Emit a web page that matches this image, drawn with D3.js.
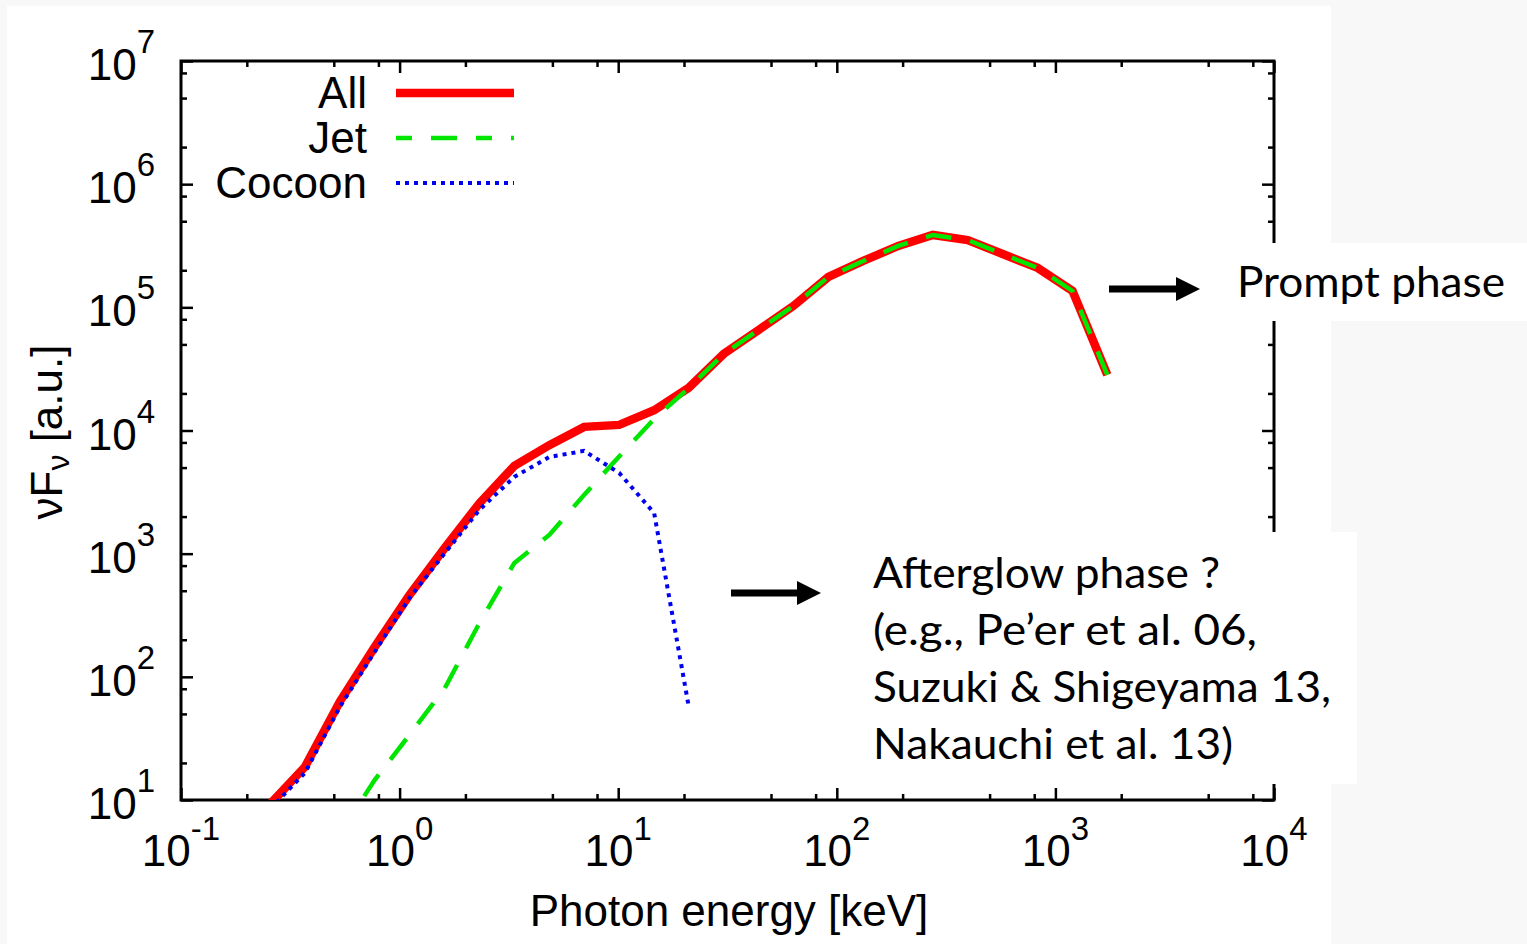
<!DOCTYPE html>
<html>
<head>
<meta charset="utf-8">
<script src="https://cdn.jsdelivr.net/npm/d3@7"></script>
<style>
  body { margin: 0; background: #f8f8f8; }
  svg { display: block; }
</style>
</head>
<body>
<svg></svg>
<script>
const width = 1527;
const height = 944;

// photon energy grid [keV]
const energy = [0.256, 0.369, 0.533, 0.770, 1.11, 1.61, 2.32, 3.35, 4.84, 6.98,
                10.1, 14.6, 21.0, 30.4, 43.9, 63.3, 91.5, 132, 191, 275,
                397, 574, 829, 1197, 1728];
const allFlux = [9.3, 18.6, 63, 175, 463, 1115, 2570, 5160, 7600, 10700,
                 11100, 14600, 22200, 41900, 65600, 102600, 176600, 238000, 315000, 387000,
                 352000, 271000, 209000, 136000, 28300];
const jetFlux = [null, null, 5.3, 14.6, 33.8, 81, 274, 841, 1420, 3000,
                 6150, 12400, 22100, 41900, 65600, 102600, 176600, 238000, 315000, 387000,
                 352000, 271000, 209000, 136000, 28300];
const cocoonFlux = [8.5, 16.6, 57, 160, 437, 1010, 2270, 4200, 6100, 6830,
                    4530, 2140, 58, null, null, null, null, null, null, null,
                    null, null, null, null, null];

const seriesNames = ["All", "Jet", "Cocoon"];
const xTickExp = [-1, 0, 1, 2, 3, 4];
const yTickExp = [1, 2, 3, 4, 5, 6, 7];
const minorMult = [2, 5, 8];

const afterglowLines = ["Afterglow phase ?", "(e.g., Pe\u2019er et al. 06,",
                        "Suzuki & Shigeyama 13,", "Nakauchi et al. 13)"];

const plotL = 181, plotR = 1274, plotT = 61, plotB = 800;
const gnuFont = "'Liberation Sans', Arial, sans-serif";
const noteFont = "Lato, 'Open Sans', sans-serif";

const svg = d3.select("svg")
  .attr("width", width)
  .attr("height", height);

svg.append("rect").attr("width", width).attr("height", height).attr("fill", "#f8f8f8");
svg.append("rect").attr("x", 7).attr("y", 6).attr("width", 1324).attr("height", 938).attr("fill", "#fff");

const x = d3.scaleLog().domain([0.1, 1e4]).range([plotL, plotR]);
const y = d3.scaleLog().domain([10, 1e7]).range([plotB, plotT]);

const xMajor = xTickExp.map(e => Math.pow(10, e));
const yMajor = yTickExp.map(e => Math.pow(10, e));
const xMinor = xMajor.slice(0, -1).flatMap(v => minorMult.map(m => m * v));
const yMinor = yMajor.slice(0, -1).flatMap(v => minorMult.map(m => m * v));

function ticks(axisFn, scale, vals, size, tr) {
  svg.append("g")
    .attr("transform", tr)
    .call(axisFn(scale).tickValues(vals).tickSize(size).tickFormat(""))
    .call(g => g.select(".domain").remove())
    .call(g => g.selectAll("line").attr("stroke", "#000").attr("stroke-width", 2.5));
}

[[xMajor, -12], [xMinor, -6]].forEach(([v, s]) => {
  ticks(d3.axisBottom, x, v, s, `translate(0,${plotB})`);
  ticks(d3.axisTop, x, v, s, `translate(0,${plotT})`);
});
[[yMajor, -12], [yMinor, -6]].forEach(([v, s]) => {
  ticks(d3.axisLeft, y, v, s, `translate(${plotL},0)`);
  ticks(d3.axisRight, y, v, s, `translate(${plotR},0)`);
});

svg.append("rect")
  .attr("x", plotL).attr("y", plotT)
  .attr("width", plotR - plotL).attr("height", plotB - plotT)
  .attr("fill", "none").attr("stroke", "#000").attr("stroke-width", 3);

// tick labels
xTickExp.forEach(e => {
  const t = svg.append("text")
    .attr("x", x(Math.pow(10, e))).attr("y", 866)
    .attr("text-anchor", "middle")
    .style("font-family", gnuFont).style("font-size", "44px");
  t.append("tspan").text("10");
  t.append("tspan").attr("dy", -26).style("font-size", "33px").text(e);
});
yTickExp.forEach(e => {
  const t = svg.append("text")
    .attr("x", 155).attr("y", y(Math.pow(10, e)) + 19)
    .attr("text-anchor", "end")
    .style("font-family", gnuFont).style("font-size", "44px");
  t.append("tspan").text("10");
  t.append("tspan").attr("dy", -27).style("font-size", "33px").text(e);
});

svg.append("text")
  .attr("x", 729).attr("y", 926)
  .attr("text-anchor", "middle")
  .style("font-family", gnuFont).style("font-size", "44px")
  .text("Photon energy [keV]");

const yTitle = svg.append("text")
  .attr("transform", "translate(62,432) rotate(-90)")
  .attr("text-anchor", "middle")
  .style("font-family", gnuFont).style("font-size", "44px");
yTitle.append("tspan").text("\u03bdF");
yTitle.append("tspan").attr("dy", 7).style("font-size", "32px").text("\u03bd");
yTitle.append("tspan").attr("dy", -7).text(" [a.u.]");

// curves
svg.append("clipPath").attr("id", "plot-clip")
  .append("rect").attr("x", plotL).attr("y", plotT)
  .attr("width", plotR - plotL).attr("height", plotB - plotT);

const styles = {
  All:    { color: "#ff0000", width: 8.5, dash: null },
  Jet:    { color: "#00e600", width: 4.5, dash: "26,19" },
  Cocoon: { color: "#0000f0", width: 4,   dash: "4,5" }
};
const fluxes = { All: allFlux, Jet: jetFlux, Cocoon: cocoonFlux };

const line = d3.line()
  .defined(d => d[1] != null)
  .x(d => x(d[0]))
  .y(d => y(d[1]));

const curves = svg.append("g").attr("clip-path", "url(#plot-clip)");
seriesNames.forEach(name => {
  const s = styles[name];
  curves.append("path")
    .datum(energy.map((e, i) => [e, fluxes[name][i]]))
    .attr("d", line)
    .attr("fill", "none")
    .attr("stroke", s.color)
    .attr("stroke-width", s.width)
    .attr("stroke-dasharray", s.dash);
});

// legend
seriesNames.forEach((name, i) => {
  const s = styles[name];
  const base = 108 + i * 45;
  svg.append("text")
    .attr("x", 367).attr("y", base)
    .attr("text-anchor", "end")
    .style("font-family", gnuFont).style("font-size", "44px")
    .text(name);
  svg.append("line")
    .attr("x1", 396).attr("x2", 514)
    .attr("y1", base - 15).attr("y2", base - 15)
    .attr("stroke", s.color)
    .attr("stroke-width", s.width)
    .attr("stroke-dasharray", name === "Jet" ? "16,19,26,19" : s.dash);
});

// annotation boxes
svg.append("rect").attr("x", 1100).attr("y", 243).attr("width", 427).attr("height", 78).attr("fill", "#fff");
svg.append("rect").attr("x", 860).attr("y", 532).attr("width", 497).attr("height", 252).attr("fill", "#fff");

function arrow(x0, x1, cy) {
  svg.append("rect").attr("x", x0).attr("y", cy - 3.5).attr("width", x1 - 23 - x0).attr("height", 7).attr("fill", "#000");
  svg.append("path")
    .attr("d", `M${x1 - 24},${cy - 12}L${x1},${cy}L${x1 - 24},${cy + 12}Z`)
    .attr("fill", "#000");
}
arrow(1109, 1200, 289);
arrow(731, 821, 593);

svg.append("text")
  .attr("x", 1237).attr("y", 297)
  .attr("textLength", 268).attr("lengthAdjust", "spacingAndGlyphs")
  .style("font-family", noteFont).style("font-size", "42px")
  .text("Prompt phase");

const noteWidths = [347, 384, 458, 360];
afterglowLines.forEach((txt, i) => {
  svg.append("text")
    .attr("x", 873).attr("y", 588 + i * 57)
    .attr("textLength", noteWidths[i]).attr("lengthAdjust", "spacingAndGlyphs")
    .style("font-family", noteFont).style("font-size", "43px")
    .text(txt);
});
</script>
</body>
</html>
